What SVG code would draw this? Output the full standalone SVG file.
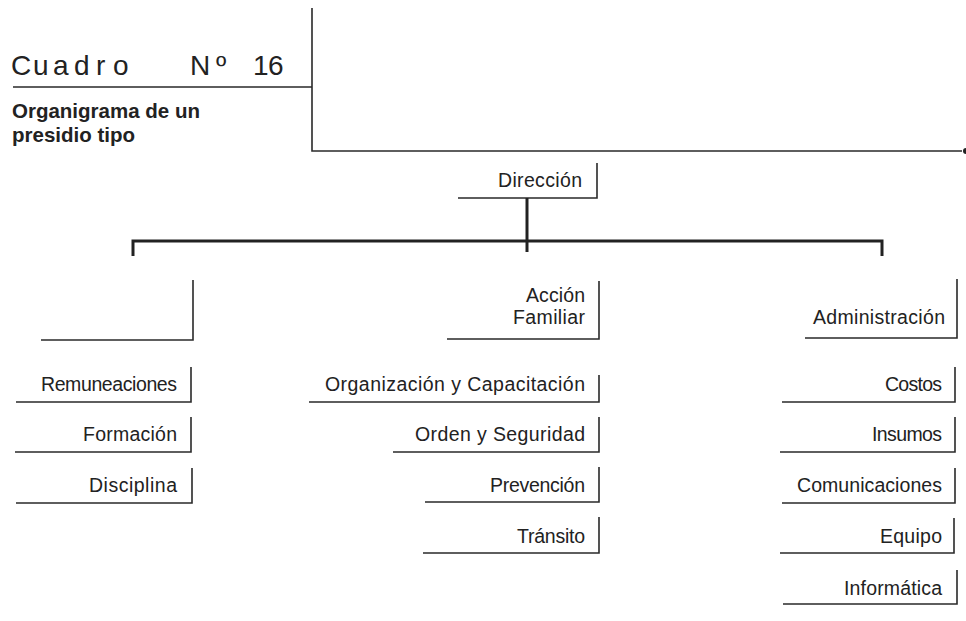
<svg xmlns="http://www.w3.org/2000/svg" width="966" height="621" viewBox="0 0 966 621">
  <style>
    .lbl { font-family: "Liberation Sans", Arial, sans-serif; font-size: 19.5px; fill: #222; text-anchor: end; }
    .title { font-family: "Liberation Sans", Arial, sans-serif; font-size: 28px; fill: #222; }
    .sub { font-family: "Liberation Sans", Arial, sans-serif; font-size: 20.5px; font-weight: bold; fill: #222; }
    .thin { stroke: #2a2a2a; stroke-width: 1.6; fill: none; }
    .thick { stroke: #222; stroke-width: 3; fill: none; }
  </style>

  <!-- heading block -->
  <g id="heading">
    <text class="title" x="11 33 53 74 96 113 190 216 253 268" y="75">CuadroNº16</text>
    <text class="sub" x="12" y="118">Organigrama de un</text>
    <text class="sub" x="12" y="142">presidio tipo</text>
    <path class="thin" d="M13 87H312M312 8V151H962"/>
    <circle cx="966" cy="151" r="3" fill="#222"/>
  </g>

  <!-- top of the chart -->
  <g id="direccion">
    <text class="lbl" x="582" y="187" textLength="84">Dirección</text>
    <path class="thin" d="M597 163V198H458"/>
  </g>

  <!-- connectors -->
  <g id="connectors">
    <path class="thick" d="M527 198V252"/>
    <path class="thick" d="M133 256V241H882V256"/>
  </g>

  <!-- left branch -->
  <g id="rama-izquierda">
    <path class="thin" d="M193 280V340H41"/>
  </g>
  <g id="remuneaciones">
    <text class="lbl" x="177" y="391" textLength="136">Remuneaciones</text>
    <path class="thin" d="M191 367V402H16"/>
  </g>
  <g id="formacion">
    <text class="lbl" x="177" y="441" textLength="94">Formación</text>
    <path class="thin" d="M191 417V452H15"/>
  </g>
  <g id="disciplina">
    <text class="lbl" x="177" y="492" textLength="88">Disciplina</text>
    <path class="thin" d="M192 468V503H16"/>
  </g>

  <!-- middle branch -->
  <g id="accion-familiar">
    <text class="lbl" x="585" y="302" textLength="59">Acción</text>
    <text class="lbl" x="585" y="324" textLength="72">Familiar</text>
    <path class="thin" d="M599 281V339H447"/>
  </g>
  <g id="organizacion">
    <text class="lbl" x="585" y="391" textLength="260">Organización y Capacitación</text>
    <path class="thin" d="M599 375V402H309"/>
  </g>
  <g id="orden">
    <text class="lbl" x="585" y="441" textLength="170">Orden y Seguridad</text>
    <path class="thin" d="M599 417V452H393"/>
  </g>
  <g id="prevencion">
    <text class="lbl" x="585" y="492" textLength="95">Prevención</text>
    <path class="thin" d="M599 467V502H425"/>
  </g>
  <g id="transito">
    <text class="lbl" x="585" y="543" textLength="68">Tránsito</text>
    <path class="thin" d="M599 517V553H423"/>
  </g>

  <!-- right branch -->
  <g id="administracion">
    <text class="lbl" x="945" y="324" textLength="132">Administración</text>
    <path class="thin" d="M957 279V338H805"/>
  </g>
  <g id="costos">
    <text class="lbl" x="942" y="391" textLength="57">Costos</text>
    <path class="thin" d="M955 367V402H782"/>
  </g>
  <g id="insumos">
    <text class="lbl" x="942" y="441" textLength="70">Insumos</text>
    <path class="thin" d="M955 417V452H780"/>
  </g>
  <g id="comunicaciones">
    <text class="lbl" x="942" y="492" textLength="145">Comunicaciones</text>
    <path class="thin" d="M955 468V503H782"/>
  </g>
  <g id="equipo">
    <text class="lbl" x="942" y="543" textLength="62">Equipo</text>
    <path class="thin" d="M954 518V553H780"/>
  </g>
  <g id="informatica">
    <text class="lbl" x="942" y="595" textLength="98">Informática</text>
    <path class="thin" d="M957 570V604H783"/>
  </g>
</svg>
